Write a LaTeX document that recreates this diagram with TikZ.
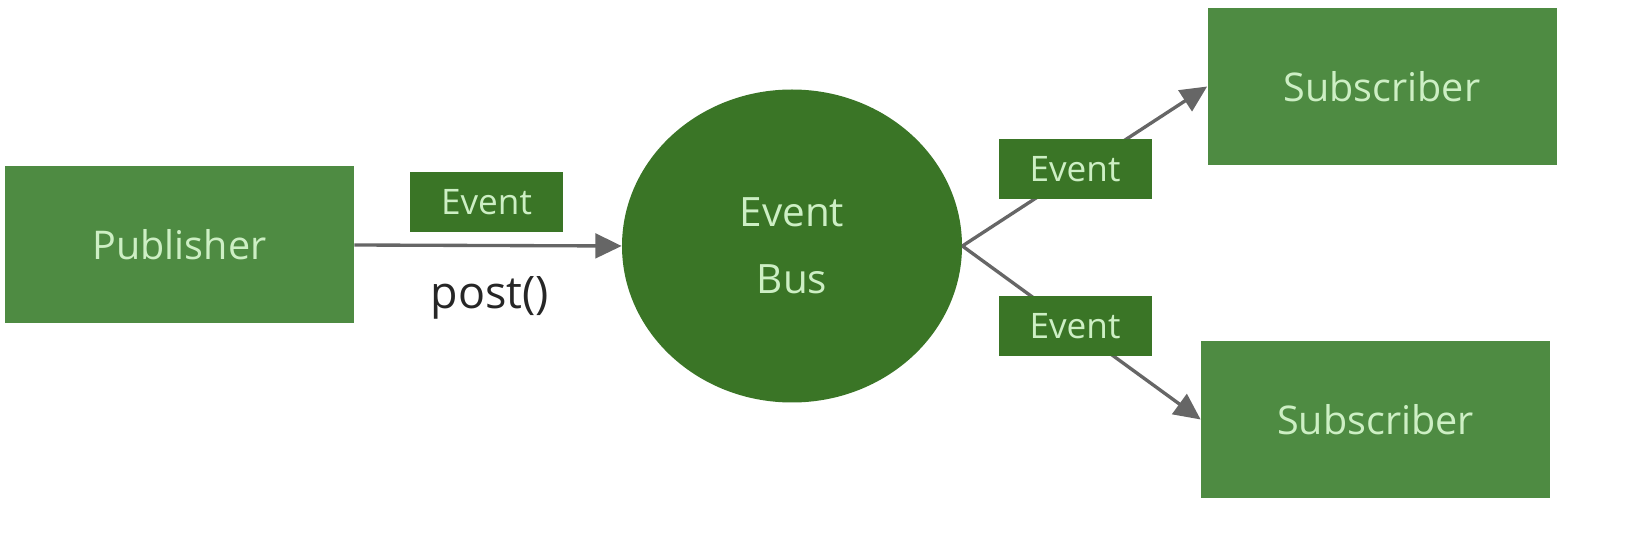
\documentclass[tikz,border=0pt]{standalone}
\usepackage{fontspec}
\setmainfont{Open Sans}
\usetikzlibrary{shapes.geometric,arrows.meta}
\definecolor{boxgreen}{HTML}{4E8B42}
\definecolor{busgreen}{HTML}{3A7526}
\definecolor{txtgreen}{HTML}{CDEFC4}
\definecolor{arrowgray}{HTML}{666666}
\tikzset{
  bigbox/.style={rectangle, fill=boxgreen, text=txtgreen, minimum width=349*0.02cm, minimum height=157*0.02cm, font=\fontsize{22.5}{26}\selectfont},
  evbox/.style={rectangle, fill=busgreen, text=txtgreen, minimum width=153*0.02cm, minimum height=60*0.02cm, font=\fontsize{20}{24}\selectfont},
  flow/.style={draw=arrowgray, line width=1.9pt, -{Triangle[length=15pt,width=14pt]}}
}
\begin{document}
\begin{tikzpicture}[x=0.02cm, y=-0.02cm]
        \useasboundingbox (0,0) rectangle (1633,533);
        \node[bigbox] (pub) at (179.5,245) {Publisher};
        \node[ellipse, fill=busgreen, text=txtgreen, minimum width=340*0.02cm, minimum height=313*0.02cm,
              align=center, font=\fontsize{23}{38}\selectfont] (bus) at (792,246) {Event\\Bus};
        \node[bigbox] (subA) at (1382,86.5) {Subscriber};
        \node[bigbox] (subB) at (1375.5,419.5) {Subscriber};
        % connectors
        \draw[flow] (pub.east) -- (bus.west);
        \draw[flow] (bus.east) -- (subA.west);
        \draw[flow] (bus.east) -- (subB.west);
        % events carried
        \node[evbox] (evPost) at (486.5,202) {Event};
        \node[evbox] (evA) at (1075,169.5) {Event};
        \node[evbox] (evB) at (1075,326.5) {Event};
        \node[font=\fontsize{25.5}{30}\selectfont, text=black!85] (post) at (490,298) {post()};
      \end{tikzpicture}
\end{document}
